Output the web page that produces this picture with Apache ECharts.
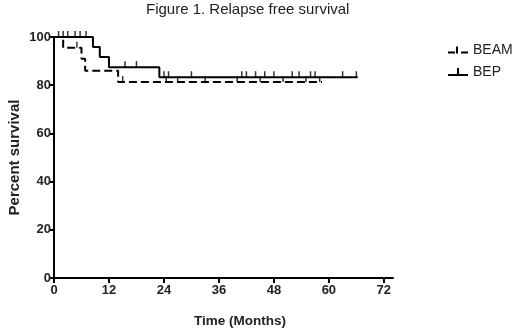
<!DOCTYPE html>
<html>
<head>
<meta charset="utf-8">
<script src="https://cdn.jsdelivr.net/npm/echarts@6/dist/echarts.min.js"></script>
<style>
  html, body { margin: 0; padding: 0; background: #fff; }
  #chart { width: 520px; height: 330px; }
</style>
</head>
<body>
<div id="chart"></div>
<script>
// Kaplan-Meier steps (months, percent)
var beamTimes = [0, 2, 6, 6.8, 14, 58.5];
var beamSurv = [100, 95.5, 91, 86, 81.3, 81.3];
var bepTimes = [0, 8.5, 10, 12, 23, 66.3];
var bepSurv = [100, 95.8, 91.7, 87.5, 83.3, 83.3];

// censored observations (tick marks)
var beamCensorT = [5, 15, 24.5, 27, 33, 40, 45, 50, 55, 58];
var beamCensorV = [95.5, 81.3, 81.3, 81.3, 81.3, 81.3, 81.3, 81.3, 81.3, 81.3];
var bepCensorT = [1, 2, 3, 4.6, 5.7, 7, 15.5, 18, 24, 25, 30, 41, 42, 44, 46, 48, 52, 53.5, 56, 57, 63, 66];
var bepCensorV = [100, 100, 100, 100, 100, 100, 87.5, 87.5, 83.3, 83.3, 83.3, 83.3, 83.3, 83.3, 83.3, 83.3, 83.3, 83.3, 83.3, 83.3, 83.3, 83.3];

var xTicks = [0, 12, 24, 36, 48, 60, 72];

function pairs(a, b) {
    return a.map(function (t, i) { return [t, b[i]]; });
}

var font = 'Liberation Sans, Arial, sans-serif';
var myChart = echarts.init(document.getElementById('chart'));

option = {
    animation: false,
    title: {
        text: 'Figure 1. Relapse free survival',
        left: 146,
        top: 0,
        padding: [2, 0, 0, 0],
        textStyle: { fontFamily: font, fontSize: 15, fontWeight: 'normal', color: '#222' }
    },
    legend: {
        orient: 'vertical',
        left: 443,
        top: 38,
        itemWidth: 20,
        itemHeight: 10,
        itemGap: 8,
        textStyle: { fontFamily: font, fontSize: 14, color: '#222' },
        data: [
            { name: 'BEAM', icon: 'path://M0,7H7V9H0Z M8,2H10V9H8Z M13,7H20V9H13Z' },
            { name: 'BEP', icon: 'path://M0,7H20V9H0Z M9,1H11V7H9Z' }
        ]
    },
    grid: { left: 54, top: 37, width: 339, height: 241, outerBoundsMode: 'none' },
    xAxis: {
        type: 'value',
        min: 0,
        max: 74,
        name: 'Time (Months)',
        nameLocation: 'middle',
        nameGap: 36,
        nameMoveOverlap: false,
        nameTextStyle: { fontFamily: font, fontSize: 13.5, fontWeight: 'bold', color: '#222', padding: [0, 0, 0, 33] },
        axisLine: { lineStyle: { color: '#000', width: 2 } },
        axisTick: { length: 5, lineStyle: { color: '#000', width: 2 }, customValues: xTicks },
        axisLabel: { fontFamily: font, fontSize: 13, fontWeight: 'bold', color: '#222', margin: 6, customValues: xTicks },
        splitLine: { show: false }
    },
    yAxis: {
        type: 'value',
        min: 0,
        max: 100,
        interval: 20,
        name: 'Percent survival',
        nameLocation: 'middle',
        nameGap: 32,
        nameMoveOverlap: false,
        nameTextStyle: { fontFamily: font, fontSize: 15, fontWeight: 'bold', color: '#222' },
        axisLine: { show: true, lineStyle: { color: '#000', width: 2 } },
        axisTick: { show: true, length: 5, lineStyle: { color: '#000', width: 2 } },
        axisLabel: { fontFamily: font, fontSize: 13, fontWeight: 'bold', color: '#222', margin: 3 },
        splitLine: { show: false }
    },
    series: [
        {
            name: 'BEAM',
            type: 'line',
            step: 'end',
            showSymbol: false,
            clip: false,
            data: pairs(beamTimes, beamSurv),
            itemStyle: { color: '#000' },
            lineStyle: { color: '#000', width: 2, type: [8, 4] }
        },
        {
            name: 'BEP',
            type: 'line',
            step: 'end',
            showSymbol: false,
            clip: false,
            data: pairs(bepTimes, bepSurv),
            itemStyle: { color: '#000' },
            lineStyle: { color: '#000', width: 2 }
        },
        {
            name: 'BEAM censored',
            type: 'scatter',
            silent: true,
            symbol: 'rect',
            symbolSize: [1.5, 6],
            symbolOffset: [0, -3],
            itemStyle: { color: '#000' },
            data: pairs(beamCensorT, beamCensorV)
        },
        {
            name: 'BEP censored',
            type: 'scatter',
            silent: true,
            symbol: 'rect',
            symbolSize: [1.5, 6],
            symbolOffset: [0, -3],
            itemStyle: { color: '#000' },
            data: pairs(bepCensorT, bepCensorV)
        }
    ]
};
myChart.setOption(option);
</script>
</body>
</html>
